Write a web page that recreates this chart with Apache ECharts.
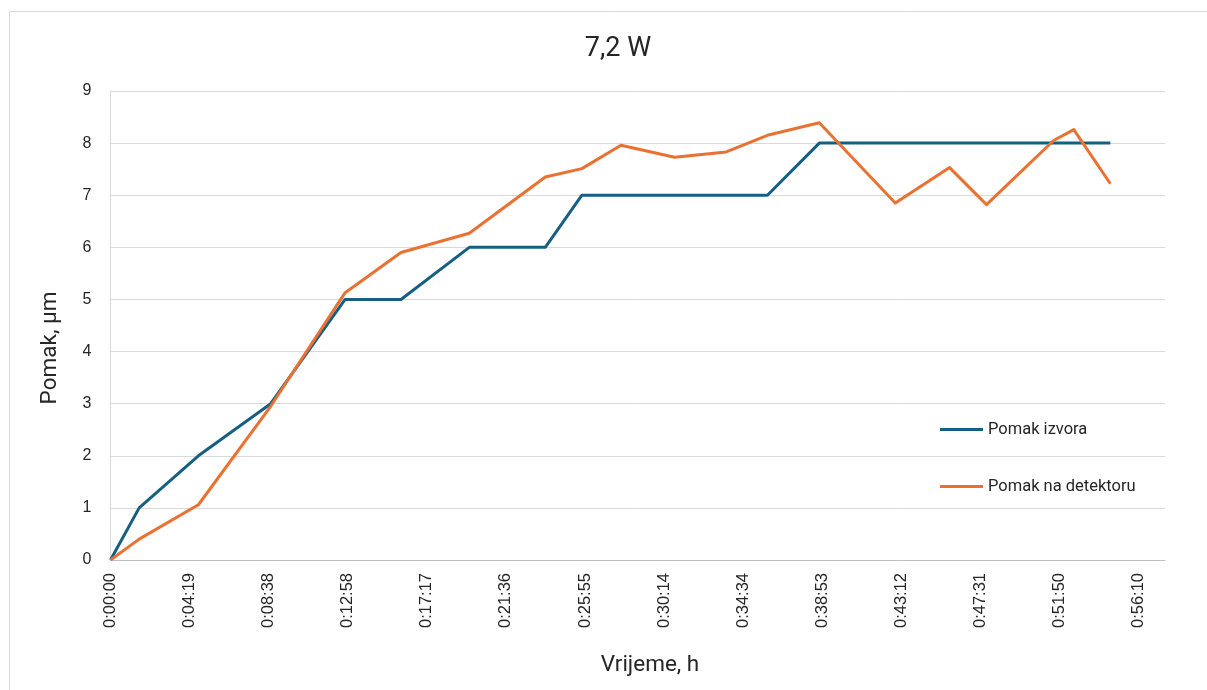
<!DOCTYPE html>
<html>
<head>
<meta charset="utf-8">
<title>7,2 W</title>
<script src="https://cdn.jsdelivr.net/npm/echarts@6/dist/echarts.min.js"></script>
<style>
  html, body { margin: 0; padding: 0; background: #ffffff; }
  #chart { width: 1207px; height: 690px; }
</style>
</head>
<body>
<div id="chart"></div>
<script>
// Measurement times (h:mm:ss)
const times = [
  '0:00:00', '0:01:34', '0:04:48', '0:08:45', '0:12:49', '0:15:52', '0:19:36',
  '0:23:45', '0:25:45', '0:27:53', '0:30:49', '0:33:38', '0:35:53', '0:38:43',
  '0:42:52', '0:45:50', '0:47:51', '0:51:31', '0:52:37', '0:54:37'
];
// Source displacement, µm
const pomakIzvora = [0, 1, 2, 3, 5, 5, 6, 6, 7, 7, 7, 7, 7, 8, 8, 8, 8, 8, 8, 8];
// Displacement measured at the detector, µm
const pomakDetektor = [0, 0.40, 1.06, 2.95, 5.13, 5.90, 6.27, 7.35, 7.51, 7.96,
  7.73, 7.83, 8.15, 8.39, 6.85, 7.53, 6.82, 8.05, 8.26, 7.22];
const seriesNames = ['Pomak izvora', 'Pomak na detektoru'];
const titleText = '7,2 W';
const xName = 'Vrijeme, h';
const yName = 'Pomak, µm';

function toSeconds(t) {
  const p = t.split(':').map(Number);
  return p[0] * 3600 + p[1] * 60 + p[2];
}
function fmtTime(s) {
  s = Math.round(s);
  const h = Math.floor(s / 3600);
  const m = Math.floor((s % 3600) / 60);
  const sec = s % 60;
  return h + ':' + String(m).padStart(2, '0') + ':' + String(sec).padStart(2, '0');
}
const secs = times.map(toSeconds);
const pairs = vals => secs.map((s, i) => [s, vals[i]]);

const textFont = 'Roboto, "Liberation Sans", sans-serif';
const tickFont = '"Liberation Sans", Arial, sans-serif';
const chart = echarts.init(document.getElementById('chart'));
chart.setOption({
  animation: false,
  backgroundColor: '#ffffff',
  title: {
    text: titleText,
    left: 613, top: 31,
    textAlign: 'center',
    textStyle: { fontFamily: textFont, fontSize: 27, fontWeight: 'normal', color: '#262626' }
  },
  legend: {
    orient: 'vertical',
    left: 935, top: 416,
    itemGap: 40,
    itemWidth: 43, itemHeight: 3,
    icon: 'rect',
    textStyle: { fontFamily: textFont, fontSize: 16.5, color: '#262626' },
    data: seriesNames
  },
  grid: { left: 110.5, right: 42, top: 91, bottom: 130, containLabel: false },
  xAxis: {
    type: 'value',
    min: 0, max: 3456, interval: 259.2,
    axisLine: { show: true, lineStyle: { color: '#bfbfbf', width: 1 } },
    axisTick: { show: false },
    splitLine: { show: false },
    axisLabel: {
      rotate: 90, margin: 13, showMaxLabel: false,
      fontFamily: tickFont, fontSize: 16.5, color: '#262626',
      formatter: v => fmtTime(v)
    }
  },
  yAxis: {
    type: 'value',
    min: 0, max: 9, interval: 1,
    axisLine: { show: true, lineStyle: { color: '#d9d9d9', width: 1 } },
    axisTick: { show: false },
    splitLine: { show: true, lineStyle: { color: '#d9d9d9', width: 1 } },
    axisLabel: {
      margin: 19,
      fontFamily: tickFont, fontSize: 16, color: '#262626'
    }
  },
  graphic: [
    {
      type: 'rect', silent: true, z: -10,
      shape: { x: 9.5, y: 11.5, width: 1210, height: 700 },
      style: { fill: 'none', stroke: '#d9d9d9', lineWidth: 1 }
    },
    {
      type: 'text', x: 50, y: 348, rotation: Math.PI / 2,
      style: { text: yName, fontFamily: textFont, fontSize: 22.5, fill: '#262626',
        textAlign: 'center', textVerticalAlign: 'middle' }
    },
    {
      type: 'text', x: 650, y: 665,
      style: { text: xName, fontFamily: textFont, fontSize: 22.5, fill: '#262626',
        textAlign: 'center', textVerticalAlign: 'middle' }
    }
  ],
  series: [
    {
      name: seriesNames[0], type: 'line', data: pairs(pomakIzvora),
      symbol: 'none', color: '#156082',
      lineStyle: { width: 3, color: '#156082', join: 'round' }
    },
    {
      name: seriesNames[1], type: 'line', data: pairs(pomakDetektor),
      symbol: 'none', color: '#E97132',
      lineStyle: { width: 3, color: '#E97132', join: 'round' }
    }
  ]
});
</script>
</body>
</html>
